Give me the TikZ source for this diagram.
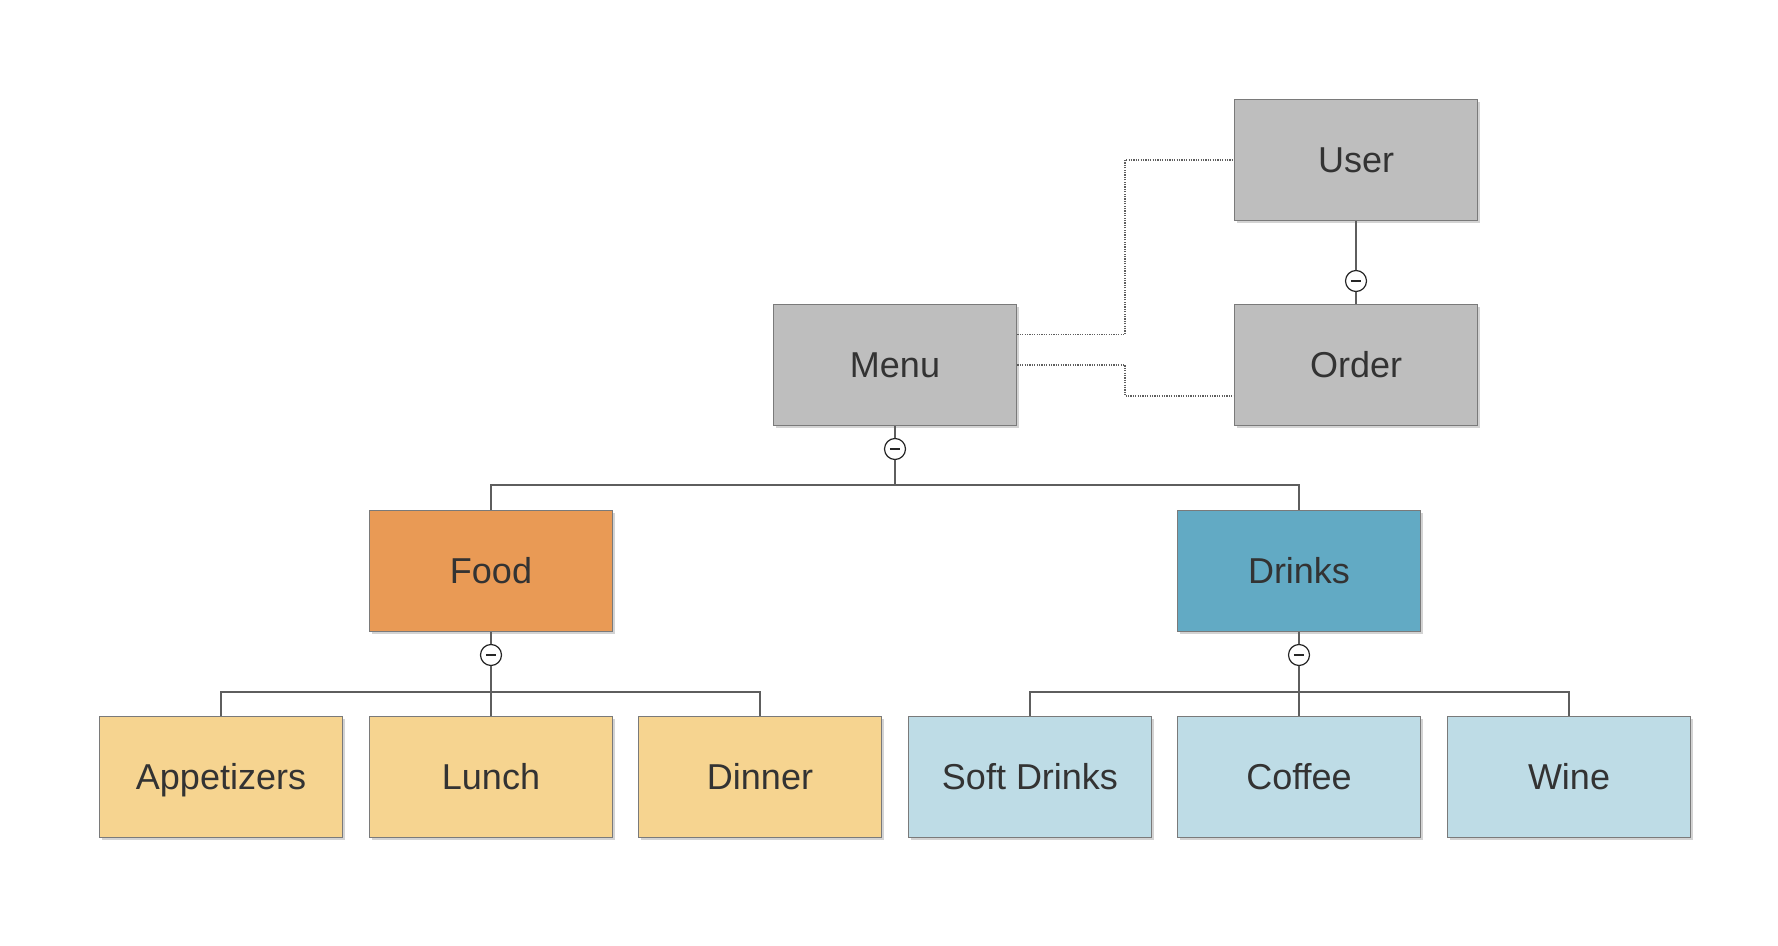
\documentclass[tikz,border=0pt]{standalone}
\usepackage{fontspec}
\setmainfont{Liberation Sans}
\usetikzlibrary{shadows}

\definecolor{boxgrey}{HTML}{BEBEBE}
\definecolor{boxline}{HTML}{7A7A7A}
\definecolor{linegrey}{HTML}{5E5E5E}
\definecolor{textgrey}{HTML}{333333}
\definecolor{foodorange}{HTML}{E99A55}
\definecolor{foodlight}{HTML}{F6D490}
\definecolor{drinkblue}{HTML}{62AAC4}
\definecolor{drinklight}{HTML}{BEDCE6}

\tikzset{
    box/.style={draw=boxline, line width=0.9pt, minimum width=121.5pt,
        minimum height=60.5pt, inner sep=0pt, text=textgrey,
        text height=12.9pt, text depth=0pt,
        font=\fontsize{18}{20}\selectfont,
        drop shadow={shadow xshift=1.4pt, shadow yshift=-1.4pt, opacity=0.35}},
    greybox/.style={box, fill=boxgrey},
    foodbox/.style={box, fill=foodorange},
    fooditem/.style={box, fill=foodlight},
    drinkbox/.style={box, fill=drinkblue},
    drinkitem/.style={box, fill=drinklight},
    fold/.style={circle, draw=black!85, fill=white, line width=0.6pt,
        minimum size=10.5pt, inner sep=0pt,
        path picture={\draw[line width=0.9pt]
            ([xshift=-2.6pt]path picture bounding box.center) --
            ([xshift=2.6pt]path picture bounding box.center);}},
    link/.style={draw=linegrey, line width=0.9pt},
    dotlink/.style={draw=linegrey, line width=0.8pt, dash pattern=on 0.6pt off 0.6pt}
}

\begin{document}
\begin{tikzpicture}[x=0.5pt, y=-0.5pt]
    \useasboundingbox (0,0) rectangle (1778,946);

    % top part
    \node[greybox] (user)  at (1356,160) {User};
    \node[greybox] (order) at (1356,365) {Order};
    \node[greybox] (menu)  at (895,365)  {Menu};

    % second row
    \node[foodbox]  (food)   at (491,571)  {Food};
    \node[drinkbox] (drinks) at (1299,571) {Drinks};

    % leaves
    \node[fooditem]  (appetizers) at (221,777)  {Appetizers};
    \node[fooditem]  (lunch)      at (491,777)  {Lunch};
    \node[fooditem]  (dinner)     at (760,777)  {Dinner};
    \node[drinkitem] (softdrinks) at (1030,777) {Soft Drinks};
    \node[drinkitem] (coffee)     at (1299,777) {Coffee};
    \node[drinkitem] (wine)       at (1569,777) {Wine};

    % folding circles and bus points
    \node[fold] (userfold)  at (1356,281) {};
    \node[fold] (menufold)  at (895,449)  {};
    \node[fold] (foodfold)  at (491,655)  {};
    \node[fold] (drinkfold) at (1299,655) {};
    \coordinate (menubus)  at (895,485);
    \coordinate (foodbus)  at (491,692);
    \coordinate (drinkbus) at (1299,692);
    \coordinate (jog) at (1125,0);
    \coordinate (menuout) at ([yshift=15.25pt]menu.east);
    \coordinate (orderin) at ([yshift=-15.5pt]order.west);

    \draw[link] (user) -- (userfold) -- (order);

    \draw[link] (menu) -- (menufold) -- (menubus);
    \draw[link] (food.north) |- (menubus) -| (drinks.north);

    \draw[link] (food) -- (foodfold) -- (lunch);
    \draw[link] (appetizers.north) |- (foodbus) -| (dinner.north);

    \draw[link] (drinks) -- (drinkfold) -- (coffee);
    \draw[link] (softdrinks.north) |- (drinkbus) -| (wine.north);

    % dotted links
    \draw[dotlink] (menuout) -| (jog |- user.west) -- (user.west);
    \draw[dotlink] (menu.east) -| (jog |- orderin) -- (orderin);
\end{tikzpicture}
\end{document}
